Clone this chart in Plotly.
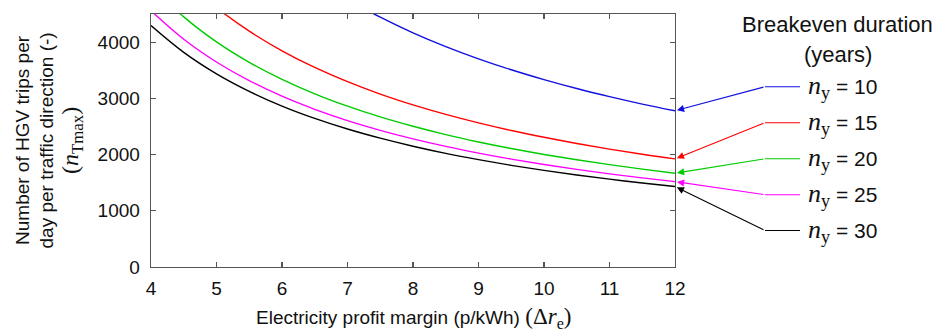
import plotly.graph_objects as go

# ---- data ----
margin_x = [4, 4.5, 5, 5.5, 6, 6.5, 7, 7.5, 8, 8.5, 9, 9.5, 10, 10.5, 11, 11.5, 12]
trips_ny10 = [8333, 7407, 6666, 6060, 5555, 5128, 4761, 4444, 4166, 3921, 3703, 3508, 3333, 3174, 3030, 2898, 2778]
trips_ny15 = [5768, 5127, 4614, 4195, 3845, 3549, 3296, 3076, 2884, 2714, 2563, 2428, 2307, 2197, 2097, 2006, 1923]
trips_ny20 = [5005, 4449, 4004, 3640, 3337, 3080, 2860, 2669, 2503, 2355, 2224, 2107, 2002, 1907, 1820, 1741, 1668]
trips_ny25 = [4558, 4051, 3646, 3315, 3038, 2805, 2604, 2431, 2279, 2145, 2026, 1919, 1823, 1736, 1657, 1585, 1519]
trips_ny30 = [4295, 3818, 3436, 3124, 2863, 2643, 2454, 2291, 2148, 2021, 1909, 1808, 1718, 1636, 1562, 1494, 1432]
durations = [10, 15, 20, 25, 30]
x_ticks = [4, 5, 6, 7, 8, 9, 10, 11, 12]
y_ticks = [0, 1000, 2000, 3000, 4000]

series = [trips_ny10, trips_ny15, trips_ny20, trips_ny25, trips_ny30]
colors = ["#1010E0", "#FF0000", "#00CC00", "#FF00FF", "#000000"]

W, H = 940, 332
L, R, T, B = 151, 265, 14, 65
PW, PH = W - L - R, H - T - B
YMAX = 4500

def px_x(px):
    return (px - L) / PW

def px_y(py):
    return (H - B - py) / PH

def data_to_py(v):
    return (H - B) - v / YMAX * PH

FONT = "Liberation Sans, Arial, sans-serif"
SERIF = "Liberation Serif, DejaVu Serif, serif"

fig = go.Figure()
for vals, col, d in zip(series, colors, durations):
    fig.add_trace(go.Scatter(x=margin_x, y=vals, mode="lines",
                             line=dict(color=col, width=1.4, shape="spline"),
                             name=f"n_y = {d}", showlegend=False, hoverinfo="skip"))

# legend-like labels with arrows
legend_py = [86.7, 122.7, 158.7, 194.7, 230.5]
tail_px = 765
for vals, col, d, ly in zip(series, colors, durations, legend_py):
    end_v = vals[-1]
    head_py = data_to_py(end_v)
    head_px = L + PW
    fig.add_annotation(x=margin_x[-1], y=end_v, xref="x", yref="y",
                       ax=tail_px - head_px, ay=ly - head_py,
                       axref="pixel", ayref="pixel",
                       showarrow=True, arrowhead=2, arrowsize=1.3,
                       arrowwidth=1.1, arrowcolor=col, standoff=2, text="")
    fig.add_shape(type="line", xref="paper", yref="paper",
                  x0=px_x(tail_px), x1=px_x(800), y0=px_y(ly), y1=px_y(ly),
                  line=dict(color=col, width=1.1))
    fig.add_annotation(x=px_x(806), y=px_y(ly), xref="paper", yref="paper",
                       xanchor="left", yanchor="middle", showarrow=False,
                       text=f'<span style="font-family:{SERIF};font-size:26px"><i>n</i><sub>y</sub></span> = {d}',
                       font=dict(family=FONT, size=21, color="#111"))

fig.add_annotation(x=px_x(837), y=px_y(25), xref="paper", yref="paper",
                   xanchor="center", yanchor="middle", showarrow=False,
                   text="Breakeven duration", font=dict(family=FONT, size=22, color="#111"))
fig.add_annotation(x=px_x(838), y=px_y(55), xref="paper", yref="paper",
                   xanchor="center", yanchor="middle", showarrow=False,
                   text="(years)", font=dict(family=FONT, size=22, color="#111"))

# axis titles
fig.add_annotation(x=0.5, y=px_y(318), xref="paper", yref="paper",
                   xanchor="center", yanchor="middle", showarrow=False,
                   text=f'Electricity profit margin (p/kWh) <span style="font-family:{SERIF};font-size:23px">(Δ<i>r</i><sub>e</sub>)</span>',
                   font=dict(family=FONT, size=19, color="#111"))
fig.add_annotation(x=px_x(49), y=px_y(140.5), xref="paper", yref="paper",
                   xanchor="center", yanchor="middle", showarrow=False, textangle=-90,
                   text=('Number of HGV trips per<br>day per traffic direction (-)<br>'
                         f'<span style="font-family:{SERIF};font-size:24px">(<i>n</i><sub>Tmax</sub>)</span>'),
                   font=dict(family=FONT, size=19, color="#111"))

axis_common = dict(showline=True, linecolor="#555", linewidth=1.3, mirror="ticks",
                   ticks="inside", ticklen=5, tickwidth=1.2, tickcolor="#555",
                   showgrid=False, zeroline=False,
                   tickfont=dict(family=FONT, size=19, color="#111"))

fig.update_xaxes(range=[4, 12], tickvals=x_ticks, ticklabelstandoff=4, **axis_common)
fig.update_yaxes(range=[0, YMAX], tickvals=y_ticks, ticklabelstandoff=6, **axis_common)

fig.update_layout(width=W, height=H, margin=dict(l=L, r=R, t=T, b=B, autoexpand=False),
                  plot_bgcolor="white", paper_bgcolor="white",
                  font=dict(family=FONT, size=19, color="#111"))

fig.write_html("out.html", config={"displayModeBar": False, "staticPlot": True},
               post_script="document.body.style.margin='0';document.body.style.padding='0';")
